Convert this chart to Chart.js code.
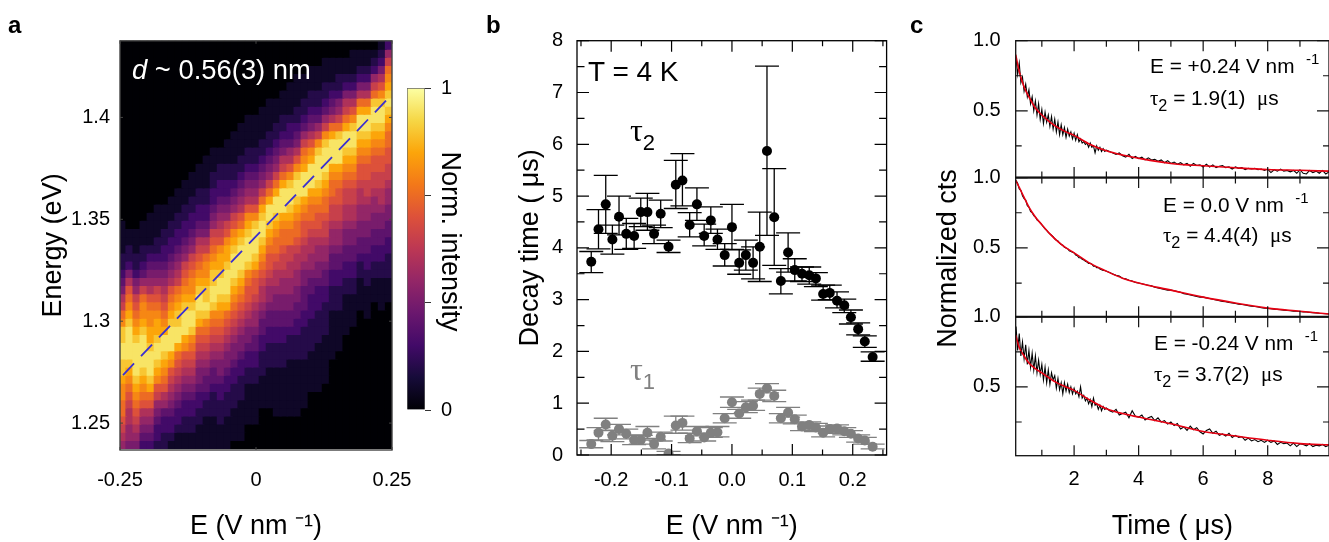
<!DOCTYPE html>
<html>
<head>
<meta charset="utf-8">
<title>Decay time panels</title>
<script src="https://cdn.jsdelivr.net/npm/chart.js@4"></script>
<style>
  html, body { margin: 0; padding: 0; background: #fff; overflow: hidden; }
  #page { position: relative; width: 1329px; height: 542px; }
  canvas { position: absolute; left: 0; top: 0; }
  .t { position: absolute; white-space: nowrap; line-height: 1; color: #000; font-family: "Liberation Sans", Arial, sans-serif; z-index: 5; }
  .t sup { font-size: .72em; line-height: 0; vertical-align: .62em; }
  .t sub { font-size: .78em; line-height: 0; vertical-align: -.4em; }
  .g { font-family: "Liberation Serif", serif; }
  .p { font-weight: bold; font-size: 24px; }
  .n { font-size: 20.8px; }
</style>
</head>
<body>
<div id="page">
  <canvas id="heat" width="1329" height="542"></canvas>
  <canvas id="bar" width="1329" height="542"></canvas>
  <canvas id="decay" width="1329" height="542"></canvas>
  <canvas id="c1" width="1329" height="542"></canvas>
  <canvas id="c2" width="1329" height="542"></canvas>
  <canvas id="c3" width="1329" height="542"></canvas>

  <div class="t p" style="left:8px;top:13px">a</div>
  <div class="t p" style="left:486px;top:13px">b</div>
  <div class="t p" style="left:910px;top:13px">c</div>
  <div class="t" style="left:132px;top:56px;font-size:27.4px;color:#fff"><i>d</i> ~ 0.56(3) nm</div>
  <div class="t" style="left:588px;top:58px;font-size:28px">T = 4 K</div>
  <div class="t" style="left:630px;top:114px;font-size:32px"><span class="g">τ</span><sub style="font-size:22px;font-family:'Liberation Sans'">2</sub></div>
  <div class="t" style="left:630px;top:353px;font-size:32px;color:#808080"><span class="g">τ</span><sub style="font-size:22px;font-family:'Liberation Sans'">1</sub></div>

  <div class="t n" style="left:1150px;top:56px">E = +0.24 V nm &nbsp;<sup>-1</sup></div>
  <div class="t n" style="left:1150px;top:88px"><span class="g">τ</span><sub>2</sub> = 1.9(1) &nbsp;<span class="g">μ</span>s</div>
  <div class="t n" style="left:1163px;top:195px">E = 0.0 V nm &nbsp;<sup>-1</sup></div>
  <div class="t n" style="left:1163px;top:225px"><span class="g">τ</span><sub>2</sub> = 4.4(4) &nbsp;<span class="g">μ</span>s</div>
  <div class="t n" style="left:1154px;top:333px">E = -0.24 V nm &nbsp;<sup>-1</sup></div>
  <div class="t n" style="left:1154px;top:364px"><span class="g">τ</span><sub>2</sub> = 3.7(2) &nbsp;<span class="g">μ</span>s</div>
</div>

<script>
// panel a: one string per field column, top row first, hex level 0-f
const heatField = [-.245,-.232,-.219,-.206,-.193,-.18,-.167,-.154,-.142,-.129,-.116,-.103,-.09,-.077,-.064,-.051,-.039,-.026,-.013,0,.013,.026,.039,.051,.064,.077,.09,.103,.116,.129,.142,.154,.167,.18,.193,.206,.219,.232,.245];
const energyEdges = [1.4375,1.4335,1.4295,1.4255,1.4215,1.4175,1.4135,1.4095,1.4055,1.4015,1.3975,1.3935,1.3895,1.3855,1.3815,1.3775,1.3735,1.3695,1.3655,1.3615,1.3575,1.3535,1.3495,1.3455,1.3415,1.3375,1.3335,1.3295,1.3255,1.3215,1.3175,1.3135,1.3095,1.3055,1.3015,1.2975,1.2935,1.2895,1.2855,1.2815,1.2775,1.2735,1.2695,1.2655,1.2615,1.2575,1.2535,1.2495,1.2455,1.2415,1.2375];
const heatColumns = [
  "000000000000000000000011112234578abddeeddcbbaa9876",
  "0000000000000000000000011223579abcdeeeedcba9877665",
  "000000000000000000000001112235689abcdeeeedcba98765",
  "0000000000000000000000111223468abbcdeeeedcba976543",
  "00000000000000000000011112345679abbccdeeedca976543",
  "00000000000000000000111122345689abccdeedcb98654332",
  "000000000000000000001112233456789abceedcba97643322",
  "0000000000000000000111223345679abcdeeecb9876543321",
  "000000000000000000111223345678abcddeeca98765433211",
  "00000000000000000111223345689abcdeeecb987654332211",
  "0000000000000000111223345689abbcdeedba987654332211",
  "000000000000000111223345789abcdeedca98765543322111",
  "00000000000000111122334578abbcddedba98765443221111",
  "0000000000000111223345689abcddeedba987654432221111",
  "0000000000000112233456789bccdeedcba987655433222111",
  "000000000000111223345689bccdeeedca9876554332221111",
  "00000000000111122345689bcdeeedcba98765543322211110",
  "0000000000111122345679acdeeedcba987655433222111110",
  "000000000111122345679bcdeeedba99876554332211111",
  "000000000111122345679bdeeedca998766544332211111",
  "0000000011112234568acdeedcba98776544332221111",
  "000000011112234568aceedcba9987665443322211111",
  "00000001112234568aceedcbaa98776554433222111111",
  "0000001112234578aceeecbaa988766554433222111111",
  "0000011112334679bdeedcbaa887766554432221111111",
  "000011112234579bdeedcbaa9877665544332221111111",
  "0000111223468abceeecba99877655444332222111111",
  "0001112234579bceeecbaa987766544333222211111",
  "000111223468bdeeedcba9987665543332222111111",
  "00111223468bdeeedcbaa988766544332222111111",
  "0011123457aceeecbaa98876654433222111111",
  "0011223568adeeecba99887665443322211111",
  "001123578aceedcba9887765544332211111",
  "011123579bdeedcba988776554433221111",
  "0112357aceedcba998776655443221111",
  "0112357aceedcba9988766554433221111",
  "012368adeedcba998876655443322111",
  "123579bdeedcba9988776554433221111",
  "368abcdedcbaa9988766554433222111"
];
const heatLevels = 15;
const dashField = [-.2445, .2426];
const dashEnergy = [1.2736, 1.4092];
const heatXTicks = [-.25, 0, .25];
const heatYTicks = [1.25, 1.3, 1.35, 1.4];
const colorbarRange = [0, 1];
const colorbarTicks = [0, 1 / 3, 2 / 3, 1];
const inferno = ["#000004","#160b39","#420a68","#6a176e","#932667","#bc3754","#dd513a","#f37819","#fca50a","#f6d746","#fcffa4"];

// panel b
const fieldValues = [-.233,-.221,-.209,-.198,-.187,-.175,-.162,-.151,-.14,-.129,-.118,-.105,-.093,-.082,-.07,-.058,-.046,-.035,-.024,-.012,0,.012,.023,.035,.046,.058,.07,.081,.093,.104,.116,.128,.139,.151,.162,.174,.186,.197,.209,.22,.233];
const tau2 = [3.73,4.36,4.84,4.16,4.6,4.27,4.23,4.69,4.69,4.27,4.66,4.02,5.22,5.3,4.44,4.84,4.23,4.53,4.16,3.86,4.4,3.71,3.86,3.71,4.02,5.87,4.59,3.36,3.91,3.57,3.5,3.47,3.41,3.11,3.13,2.98,2.89,2.66,2.43,2.19,1.89];
const tau2High = [3.93,4.74,5.4,4.44,5,4.57,4.47,4.96,5.05,4.44,4.92,4.15,5.69,5.82,4.68,5.16,4.46,4.79,4.36,4.08,4.84,3.96,4.15,4.02,4.69,7.51,5.53,3.6,4.29,3.79,3.63,3.63,3.52,3.28,3.28,3.15,3.01,2.8,2.55,2.3,1.99];
const tau2Low = [3.52,3.98,4.28,3.88,4.25,3.97,3.99,4.41,4.34,4.08,4.39,3.91,4.76,4.81,4.21,4.53,4.04,4.28,3.97,3.65,3.97,3.49,3.57,3.4,3.35,4.24,3.66,3.11,3.53,3.36,3.35,3.3,3.25,2.99,3,2.84,2.75,2.53,2.32,2.08,1.81];
const tau1 = [.21,.43,.59,.37,.5,.41,.29,.29,.43,.21,.35,.03,.57,.62,.32,.46,.34,.43,.44,.71,1.02,.8,.92,.95,1.18,1.29,1.14,.71,.82,.69,.55,.58,.53,.43,.5,.51,.46,.41,.32,.28,.16];
const tau1High = [.28,.53,.71,.48,.59,.5,.39,.38,.55,.29,.44,.07,.75,.75,.42,.55,.42,.53,.55,.8,1.12,.88,1.03,1.06,1.29,1.38,1.25,.8,.92,.77,.62,.64,.61,.5,.56,.58,.53,.47,.39,.34,.21];
const tau1Low = [.14,.29,.47,.26,.39,.31,.2,.21,.32,.12,.27,0,.42,.48,.24,.37,.27,.34,.35,.62,.92,.71,.82,.86,1.06,1.2,1.03,.62,.73,.6,.47,.5,.45,.35,.42,.44,.39,.34,.25,.21,.12];
const decayXTicks = [-.2, -.1, 0, .1, .2];
const decayXMinor = [-.25, -.15, -.05, .05, .15, .25];
const decayYTicks = [0, 1, 2, 3, 4, 5, 6, 7, 8];
const decayYMinor = [.5, 1.5, 2.5, 3.5, 4.5, 5.5, 6.5, 7.5];

// panel c
const timeValues = [.2,.25,.3,.35,.4,.45,.5,.55,.6,.65,.7,.75,.8,.85,.9,.95,1,1.05,1.1,1.15,1.2,1.25,1.3,1.35,1.4,1.45,1.5,1.55,1.6,1.65,1.7,1.75,1.8,1.85,1.9,1.95,2,2.05,2.1,2.15,2.2,2.25,2.3,2.35,2.4,2.45,2.5,2.55,2.6,2.65,2.7,2.75,2.8,2.85,2.9,2.95,3,
  3.1,3.2,3.3,3.4,3.5,3.6,3.7,3.8,3.9,4,4.1,4.2,4.3,4.4,4.5,4.6,4.7,4.8,4.9,5,5.1,5.2,5.3,5.4,5.5,5.6,5.7,5.8,5.9,6,6.1,6.2,6.3,6.4,6.5,6.6,6.7,6.8,6.9,7,7.1,7.2,7.3,7.4,7.5,7.6,7.7,7.8,7.9,8,8.1,8.2,8.3,8.4,8.5,8.6,8.7,8.8,8.9,9,9.1,9.2,9.3,9.4,9.5,9.6,9.7,9.8,9.9];
const tracePlus = [.88,.76,.84,.7,.74,.64,.69,.6,.65,.55,.6,.5,.57,.47,.55,.44,.51,.41,.49,.42,.47,.39,.46,.37,.44,.35,.42,.33,.4,.33,.38,.31,.37,.32,.35,.3,.34,.29,.33,.28,.3,.27,.28,.26,.27,.24,.27,.24,.25,.2,.25,.22,.24,.21,.23,.21,.22,
  .21,.2,.19,.2,.18,.17,.19,.16,.175,.16,.17,.15,.165,.15,.155,.14,.15,.13,.145,.125,.135,.12,.13,.115,.125,.105,.125,.11,.115,.1,.12,.1,.115,.095,.105,.11,.095,.1,.085,.1,.09,.095,.08,.09,.085,.09,.08,.085,.075,.085,.06,.08,.07,.085,.07,.075,.065,.075,.055,.08,.055,.05,.075,.06,.07,.055,.075,.05,.065];
const traceZero = [.98,.96,.92,.91,.87,.85,.84,.8,.79,.76,.75,.73,.72,.7,.69,.68,.665,.65,.635,.625,.61,.6,.59,.58,.565,.555,.55,.535,.525,.52,.505,.5,.495,.48,.475,.47,.465,.45,.445,.43,.43,.42,.415,.405,.4,.39,.39,.385,.37,.37,.36,.36,.35,.345,.34,.34,.335,
  .325,.315,.305,.3,.285,.28,.27,.265,.255,.25,.245,.24,.235,.23,.22,.215,.21,.205,.2,.2,.195,.19,.185,.175,.17,.165,.16,.155,.15,.15,.145,.14,.135,.13,.125,.12,.118,.112,.108,.105,.1,.098,.095,.09,.085,.083,.08,.075,.072,.07,.068,.065,.063,.06,.058,.055,.053,.05,.05,.048,.045,.044,.042,.04,.038,.035,.034,.032,.03];
const traceMinus = [.93,.76,.88,.72,.82,.7,.8,.66,.76,.64,.74,.62,.72,.6,.69,.59,.66,.55,.64,.53,.62,.52,.6,.55,.58,.49,.56,.48,.53,.45,.53,.47,.52,.46,.5,.45,.49,.45,.47,.43,.5,.42,.44,.4,.42,.38,.41,.36,.42,.37,.38,.34,.37,.33,.36,.34,.35,
  .33,.32,.34,.3,.31,.32,.28,.33,.29,.285,.3,.265,.28,.29,.26,.28,.25,.26,.235,.25,.225,.24,.2,.215,.19,.22,.195,.21,.18,.165,.19,.2,.17,.185,.155,.165,.15,.17,.14,.155,.14,.145,.12,.135,.115,.125,.11,.12,.105,.12,.105,.115,.09,.105,.095,.1,.08,.1,.075,.095,.09,.08,.095,.075,.085,.08,.09,.075,.085];
const fitTimes = [.19,.3,.45,.6,.8,1,1.25,1.5,1.75,2,2.5,3,3.5,4,5,6,7,8,9,9.9];
const fitPlus = [.9,.78,.67,.6,.52,.47,.42,.38,.35,.325,.26,.215,.185,.162,.125,.108,.094,.082,.076,.07];
const fitZero = [.98,.93,.86,.79,.72,.665,.6,.545,.5,.465,.39,.335,.285,.25,.2,.15,.108,.072,.05,.03];
const fitMinus = [.87,.78,.72,.67,.63,.6,.56,.525,.5,.475,.405,.345,.31,.285,.237,.182,.15,.12,.096,.087];
const timeTicks = [2, 4, 6, 8];
const timeMinor = [1, 3, 5, 7, 9];
const ctsTicks = [.5, 1];
const ctsMinor = [.25, .75];

const fontFamily = '"Liberation Sans", Arial, sans-serif';
Chart.defaults.font.family = fontFamily;
Chart.defaults.color = "#000";
Chart.defaults.animation = false;
Chart.defaults.responsive = false;
Chart.defaults.devicePixelRatio = 1;
Chart.defaults.events = [];
Chart.defaults.plugins.legend.display = false;
Chart.defaults.plugins.tooltip.enabled = false;

function hexRgb(h) {
  return [1, 3, 5].map(i => parseInt(h.slice(i, i + 2), 16));
}

function levelColor(f) {
  const p = f * (inferno.length - 1);
  const i = Math.min(Math.floor(p), inferno.length - 2);
  const a = hexRgb(inferno[i]), b = hexRgb(inferno[i + 1]);
  const t = p - i;
  return "rgb(" + a.map((v, k) => Math.round(v + (b[k] - v) * t)).join(",") + ")";
}

// outer box of a panel in page pixels; the canvases all cover the whole page
function plotBox(left, top, right, bottom) {
  return { padding: { left, top, right: 1329 - right, bottom: 542 - bottom } };
}

function axis(size, values, format, pad, title) {
  return {
    grid: { display: false, drawTicks: false },
    border: { display: false },
    afterFit(s) {
      if (s.isHorizontal()) s.height = size; else s.width = size;
    },
    afterBuildTicks(s) {
      s.ticks = values.map(v => ({ value: v }));
    },
    ticks: { padding: pad, autoSkip: false, minRotation: 0, maxRotation: 0, color: "#000", font: { size: 20 }, callback: format },
    title: title ? { display: true, text: title, color: "#000", padding: 0, font: { size: 27, lineHeight: 1 } } : { display: false }
  };
}

// frame and inward ticks, all placed through the scales
const frameTicks = {
  id: "frameTicks",
  afterDatasetsDraw(chart, args, o) {
    const { ctx, chartArea: a, scales } = chart;
    ctx.save();
    ctx.strokeStyle = o.color;
    ctx.lineWidth = o.tickWidth;
    const xTick = (list, len) => list.forEach(v => {
      const x = scales.x.getPixelForValue(v);
      ctx.beginPath();
      ctx.moveTo(x, a.top); ctx.lineTo(x, a.top + len);
      ctx.moveTo(x, a.bottom); ctx.lineTo(x, a.bottom - len);
      ctx.stroke();
    });
    const yTick = (list, len) => list.forEach(v => {
      const y = scales.y.getPixelForValue(v);
      ctx.beginPath();
      ctx.moveTo(a.left, y); ctx.lineTo(a.left + len, y);
      ctx.moveTo(a.right, y); ctx.lineTo(a.right - len, y);
      ctx.stroke();
    });
    xTick(o.xMajor, o.xMajorLen);
    xTick(o.xMinor, o.xMinorLen);
    yTick(o.yMajor, o.yMajorLen);
    yTick(o.yMinor, o.yMinorLen);
    ctx.lineWidth = o.frameWidth;
    ctx.strokeRect(a.left, a.top, a.right - a.left, a.bottom - a.top);
    if (o.topWidth) {
      ctx.lineWidth = o.topWidth;
      ctx.beginPath();
      ctx.moveTo(a.left, a.top); ctx.lineTo(a.right, a.top);
      ctx.stroke();
    }
    ctx.restore();
  }
};

const errorBars = {
  id: "errorBars",
  beforeDatasetsDraw(chart) {
    const { ctx, chartArea: a, scales } = chart;
    ctx.save();
    ctx.beginPath();
    ctx.rect(a.left, a.top, a.right - a.left, a.bottom - a.top);
    ctx.clip();
    ctx.lineWidth = 1.3;
    chart.data.datasets.forEach(ds => {
      ctx.strokeStyle = ds.backgroundColor;
      ds.data.forEach((p, i) => {
        const x = scales.x.getPixelForValue(p.x);
        const hi = scales.y.getPixelForValue(ds.errHigh[i]);
        const lo = scales.y.getPixelForValue(ds.errLow[i]);
        ctx.beginPath();
        ctx.moveTo(x, hi); ctx.lineTo(x, lo);
        ctx.moveTo(x - 12, hi); ctx.lineTo(x + 12, hi);
        ctx.moveTo(x - 12, lo); ctx.lineTo(x + 12, lo);
        ctx.stroke();
      });
    });
    ctx.restore();
  }
};

// panel a heat map: one floating bar per cell
const heatSets = [];
for (let row = 0; row < energyEdges.length - 1; row++) {
  heatSets.push({
    type: "bar",
    order: 1,
    grouped: false,
    barThickness: 7.8,
    inflateAmount: .5,
    borderWidth: 0,
    data: heatField.map(x => ({ x, y: [energyEdges[row + 1], energyEdges[row]] })),
    backgroundColor: heatColumns.map(col => levelColor(parseInt(col[row] || "0", 16) / heatLevels))
  });
}
heatSets.push({
  type: "line",
  order: 0,
  data: dashField.map((x, i) => ({ x, y: dashEnergy[i] })),
  borderColor: "#3a2fd0",
  borderWidth: 1.8,
  borderDash: [16, 10],
  pointRadius: 0
});

new Chart(document.getElementById("heat"), {
  type: "bar",
  data: { datasets: heatSets },
  plugins: [frameTicks],
  options: {
    layout: plotBox(40, 40.8, 392, 540),
    plugins: { frameTicks: { color: "#444", tickWidth: 1, frameWidth: 1.4, xMajor: heatXTicks, xMinor: [], yMajor: heatYTicks, yMinor: [], xMajorLen: 3, xMinorLen: 0, yMajorLen: 3, yMinorLen: 0 } },
    scales: {
      x: Object.assign(axis(90, heatXTicks, v => String(v), 18, "E (V nm ⁻¹)"), { type: "linear", min: -.25, max: .25, offset: false }),
      y: Object.assign(axis(80, heatYTicks, v => String(v), 10, "Energy (eV)"), { type: "linear", min: 1.2368, max: 1.4376 })
    }
  }
});

// colour bar
const barY = axis(38, colorbarTicks, v => (v === 0 || v === 1 ? String(v) : ""), 10, "Norm. intensity  ");
barY.position = "right";
barY.min = 0;
barY.max = 1;
barY.grid = { display: true, drawOnChartArea: false, drawTicks: true, tickLength: 6, tickColor: "#333" };

new Chart(document.getElementById("bar"), {
  type: "bar",
  data: {
    labels: [""],
    datasets: [{
      data: [colorbarRange],
      barPercentage: 1,
      categoryPercentage: 1,
      borderWidth: 1,
      borderColor: "#666",
      backgroundColor(ctx) {
        const a = ctx.chart.chartArea;
        if (!a) return "#000";
        const g = ctx.chart.ctx.createLinearGradient(0, a.bottom, 0, a.top);
        inferno.forEach((c, i) => g.addColorStop(i / (inferno.length - 1), c));
        return g;
      }
    }]
  },
  options: {
    layout: plotBox(407, 88, 463, 410),
    scales: { x: { display: false }, y: barY }
  }
});

// panel b
new Chart(document.getElementById("decay"), {
  type: "scatter",
  data: {
    datasets: [
      { data: fieldValues.map((x, i) => ({ x, y: tau1[i] })), errHigh: tau1High, errLow: tau1Low, backgroundColor: "#808080", pointRadius: 5, borderWidth: 0 },
      { data: fieldValues.map((x, i) => ({ x, y: tau2[i] })), errHigh: tau2High, errLow: tau2Low, backgroundColor: "#000000", pointRadius: 5, borderWidth: 0 }
    ]
  },
  plugins: [errorBars, frameTicks],
  options: {
    layout: plotBox(517, 40.7, 886.6, 540),
    plugins: { frameTicks: { color: "#000", tickWidth: 1.2, frameWidth: 1.3, xMajor: decayXTicks, xMinor: decayXMinor, yMajor: decayYTicks, yMinor: decayYMinor, xMajorLen: 11, xMinorLen: 5.5, yMajorLen: 12, yMinorLen: 7.5 } },
    scales: {
      x: Object.assign(axis(85, decayXTicks, v => v.toFixed(1), 13, "E (V nm ⁻¹)"), { type: "linear", min: -.2566, max: .2561 }),
      y: Object.assign(axis(60, decayYTicks, v => String(v), 14, "Decay time ( μs)"), { type: "linear", min: 0, max: 8 })
    }
  }
});

// panel c: three stacked decays
function decayPanel(id, trace, fit, box, yMin, opts) {
  const xAxis = axis(opts.xSize || 0, timeTicks, v => String(v), 12, opts.xTitle);
  xAxis.type = "linear";
  xAxis.min = .19;
  xAxis.max = 9.9;
  xAxis.display = !!opts.xTitle;
  const yAxis = axis(80.7, ctsTicks, v => v.toFixed(1), 15, opts.yTitle);
  yAxis.type = "linear";
  yAxis.min = yMin;
  yAxis.max = 1;
  new Chart(document.getElementById(id), {
    type: "line",
    data: {
      datasets: [
        { order: 0, data: fitTimes.map((x, i) => ({ x, y: fit[i] })), borderColor: "#e60012", borderWidth: 1.6, pointRadius: 0, cubicInterpolationMode: "monotone" },
        { order: 1, data: timeValues.map((x, i) => ({ x, y: trace[i] })), borderColor: "#000", borderWidth: 1.1, pointRadius: 0 }
      ]
    },
    plugins: [frameTicks],
    options: {
      layout: plotBox(935, box[0], 1329, box[1]),
      plugins: { frameTicks: { color: "#111", tickWidth: 1.2, frameWidth: 1.3, topWidth: opts.topWidth || 0, xMajor: timeTicks, xMinor: timeMinor, yMajor: ctsTicks, yMinor: ctsMinor, xMajorLen: 10.5, xMinorLen: 6, yMajorLen: 12, yMinorLen: 6 } },
      scales: { x: xAxis, y: yAxis }
    }
  });
}

decayPanel("c1", tracePlus, fitPlus, [40.7, 177.6], .024, {});
decayPanel("c2", traceZero, fitZero, [177.6, 316.7], .011, { topWidth: 2, yTitle: "Normalized cts   " });
decayPanel("c3", traceMinus, fitMinus, [316.7, 540], .01, { topWidth: 2, xSize: 84.3, xTitle: "Time ( μs)" });
</script>
</body>
</html>
